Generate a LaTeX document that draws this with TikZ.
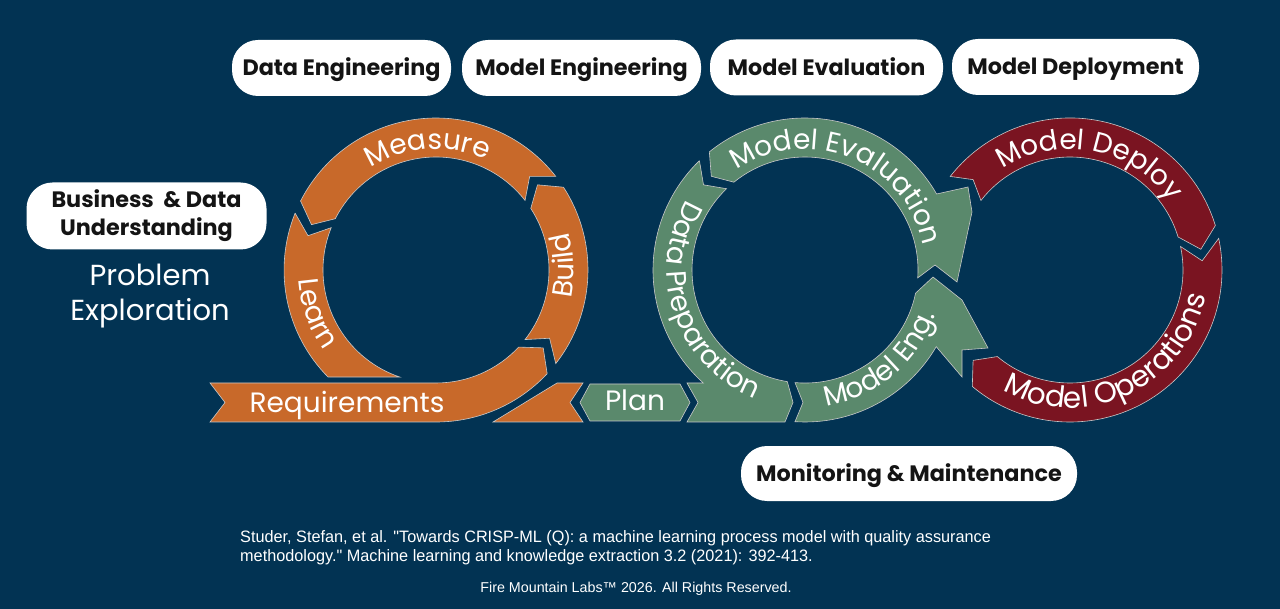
\documentclass[tikz,border=0pt]{standalone}
\usepackage{fontspec}
\setmainfont{Poppins}
\newfontfamily\footfont{Liberation Sans}
\usetikzlibrary{decorations.text}
\definecolor{bg}{RGB}{2,51,83}
\definecolor{orng}{RGB}{200,105,42}
\definecolor{grn}{RGB}{90,137,108}
\definecolor{rd}{RGB}{122,20,33}
\definecolor{edge}{RGB}{200,200,200}
\definecolor{ink}{RGB}{20,20,20}
\newcommand\ringfs{\fontsize{28}{30}\selectfont}
\begin{document}
\begin{tikzpicture}[x=1pt,y=-1pt,
  seg/.style={fill=#1, draw=edge, line width=0.6pt, line join=miter},
  pill/.style={fill=white, rounded corners=26pt, minimum height=56pt, inner sep=0pt, text=ink, font=\bfseries\fontsize{22.3}{28}\selectfont},
  onel/.style={text height=16pt, text depth=0pt},
  lbl/.style={text=white, font=\ringfs},
  outtext/.style={decorate, decoration={text along path, text align=center, text color=white, text={|\ringfs|#1}}},
]
\useasboundingbox (0,0) rectangle (1280,609);
\fill[bg] (0,0) rectangle (1280,609);

% ---------------- red ring ----------------
\begin{scope}[shift={(1070,270)}]
\path[seg=rd] (-142:152) -- (-137:132.5) -- (-142:113) arc[start angle=-142, end angle=-17, radius=113] -- (-9:132.5) -- (-17:152) arc[start angle=-17, end angle=-142, radius=152] -- cycle;
\path[seg=rd] (-12:152) -- (-4:132.5) -- (-12:113) arc[start angle=-12, end angle=130, radius=113] -- (137:132.5) -- (130:152) arc[start angle=130, end angle=-12, radius=152] -- cycle;
\path[outtext={Model Deploy}] (-169:121) arc[start angle=-169, end angle=11, radius=121];
\path[decorate, decoration={text along path, text align=center, text color=white, text={|\fontsize{29.5}{30}\selectfont|Model Operations}}] (150:138) arc[start angle=150, end angle=-20, radius=138];
\end{scope}

% ---------------- green ring ----------------
\begin{scope}[shift={(805,270)}]
\path[seg=grn] (-134:152) -- (-140:132.5) -- (-134:113) arc[start angle=-134, end angle=-261, radius=113] -- (-12,132.5) -- (-20,152) -- (-118,152) -- (-107,132.5) -- (-118,113) -- (-101.7,113) arc[start angle=-228, end angle=-134, radius=152] -- cycle;
\path[seg=grn] (-10,151.7) -- (-2,132.5) -- (-10,112.6) arc[start angle=95.07, end angle=11.8, radius=113] -- (128,7) -- (157,30) -- (183,78) -- (157,80) -- (157,107) -- (30.3:152) arc[start angle=30.3, end angle=93.78, radius=152] -- cycle;
\path[seg=grn] (4:113) -- (130,-5) -- (152,12) -- (167,-58) -- (163,-83) -- (-30:152) arc[start angle=-30, end angle=-129, radius=152] -- (-135:132.5) -- (-129:113) arc[start angle=-129, end angle=4, radius=113] -- cycle;
\path[outtext={Model Evaluation}] (-158:121) arc[start angle=-158, end angle=22, radius=121];
\path[outtext={Data Preparation}] (-119:138) arc[start angle=-119, end angle=-279, radius=138];
\path[outtext={Model Eng.}] (130:138) arc[start angle=130, end angle=-30, radius=138];
\end{scope}

% ---------------- orange ring ----------------
\begin{scope}[shift={(436,270)}]
\path[seg=orng] (121,113) -- (147,113) -- (134,132.5) -- (147,152) -- (57,152) -- cycle;
\path[seg=orng] (-226,113) -- (0,113) arc[start angle=90, end angle=43, radius=113] -- (36:132.5) -- (43:152) arc[start angle=43, end angle=90, radius=152] -- (-226,152) -- (-211,132.5) -- cycle;
\path[seg=orng] (38:152) -- (31:132.5) -- (38:113) arc[start angle=38, end angle=-33, radius=113] -- (-40:132.5) -- (-33:152) arc[start angle=-33, end angle=38, radius=152] -- cycle;
\path[seg=orng] (-38:152) -- (-45:132.5) -- (-38:113) arc[start angle=-38, end angle=-153, radius=113] -- (-160:132.5) -- (-153:152) arc[start angle=-153, end angle=-38, radius=152] -- cycle;
\path[seg=orng] (-158:152) -- (-165:132.5) -- (-158:113) arc[start angle=-158, end angle=-251.3, radius=113] -- (-108,107) arc[start angle=-224.7, end angle=-158, radius=152] -- cycle;
\path[outtext={Measure}] (-174:121) arc[start angle=-174, end angle=-14, radius=121];
\path[outtext={Build}] (78:138) arc[start angle=78, end angle=-82, radius=138];
\path[outtext={Learn}] (-120:138) arc[start angle=-120, end angle=-280, radius=138];
\end{scope}

\node[lbl, anchor=base] (req) at (347,413) {Requirements};

% Plan
\path[seg=grn] (580,402.5) -- (590,384) -- (680,384) -- (690,402.5) -- (680,421) -- (590,421) -- cycle;
\node[lbl, anchor=base] (plan) at (635,411) {Plan};

% pills
\node[pill, onel, minimum width=219pt] (de) at (341.5,68) {Data Engineering};
\node[pill, onel, minimum width=239pt] (meng) at (581.5,68) {Model Engineering};
\node[pill, onel, minimum width=233pt] (meval) at (826.5,67.5) {Model Evaluation};
\node[pill, onel, minimum width=247pt] (mdep) at (1075.5,67) {Model Deployment};
\node[pill, onel, minimum width=336pt, minimum height=55pt] (mon) at (909,473.5) {Monitoring \& Maintenance};
\node[pill, minimum width=240pt, minimum height=67pt, align=center] (bdu) at (146.5,216) {Business\ \ \& Data\\Understanding};

\node[text=white, font=\fontsize{29}{35}\selectfont, align=center] (pe) at (150,296) {Problem\\Exploration};

% footer
\node[anchor=base west, text=white, font=\footfont\fontsize{16.5}{19}\selectfont, inner sep=0pt, xscale=0.985] (ref1) at (240,542) {Studer, Stefan, et al. "Towards CRISP-ML (Q): a machine learning process model with quality assurance};
\node[anchor=base west, text=white, font=\footfont\fontsize{16.5}{19}\selectfont, inner sep=0pt, xscale=0.985] (ref2) at (240,561) {methodology." Machine learning and knowledge extraction 3.2 (2021): 392-413.};
\node[anchor=base, text=white, font=\footfont\fontsize{14.3}{17}\selectfont, inner sep=0pt] (copy) at (636,592) {Fire Mountain Labs™ 2026. All Rights Reserved.};
\end{tikzpicture}
\end{document}
